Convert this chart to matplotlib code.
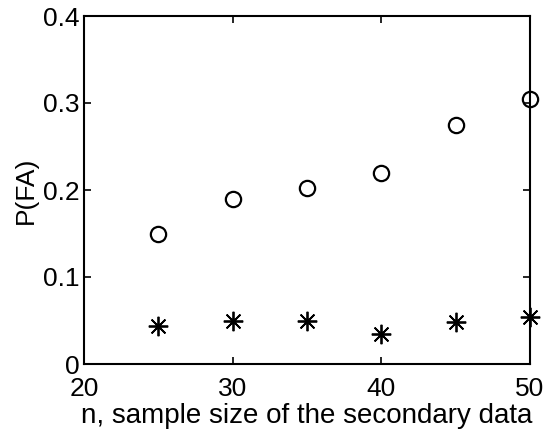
import numpy as np
import matplotlib.pyplot as plt

plt.rcParams['font.family'] = ['Liberation Sans', 'DejaVu Sans']

# sample sizes and estimated false alarm probabilities
n_values = [25, 30, 35, 40, 45, 50]
pfa_circle = [0.150, 0.190, 0.202, 0.219, 0.275, 0.305]
pfa_star = [0.044, 0.050, 0.050, 0.034, 0.048, 0.054]

x_ticks = [20, 30, 40, 50]
y_ticks = [0, 0.1, 0.2, 0.3, 0.4]
y_tick_labels = ['0', '0.1', '0.2', '0.3', '0.4']

fig = plt.figure(figsize=(5.46, 4.42), dpi=100)
ax = fig.add_axes([84 / 546, 1 - 364 / 442, (530 - 84) / 546, (364 - 16) / 442])

ax.plot(n_values, pfa_circle, linestyle='none', marker='o', markersize=11,
        markerfacecolor='none', markeredgecolor='black', markeredgewidth=1.6,
        clip_on=False)
ax.plot(n_values, pfa_star, linestyle='none', marker=(8, 2, 0), markersize=14,
        markeredgecolor='black', markeredgewidth=1.3, color='black',
        clip_on=False)

ax.set_xlim(20, 50)
ax.set_ylim(0, 0.4)
ax.set_xticks(x_ticks)
ax.set_yticks(y_ticks)
ax.set_yticklabels(y_tick_labels)
ax.tick_params(direction='in', length=5, width=1.2, labelsize=19,
               top=True, right=True)
ax.tick_params(axis='y', pad=3)
ax.tick_params(axis='x', pad=9)
for s in ax.spines.values():
    s.set_linewidth(1.5)

ax.set_xlabel('n, sample size of the secondary data', fontsize=20, labelpad=2)
ax.set_ylabel('P(FA)', fontsize=19, labelpad=4)

fig.savefig('out.png', dpi=100)
